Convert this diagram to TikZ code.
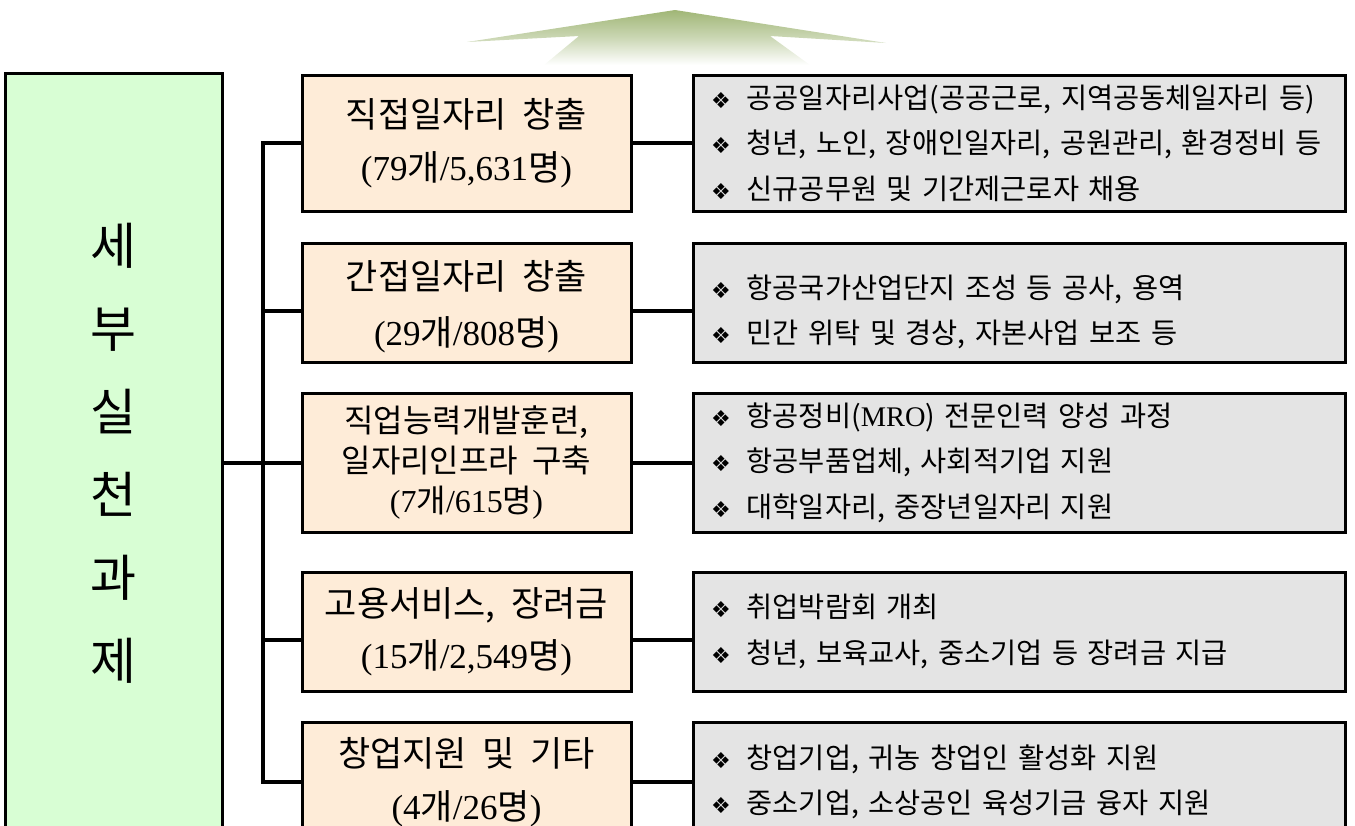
\documentclass[tikz,border=0pt]{standalone}
\usepackage{fontspec}
\setmainfont{Liberation Serif}
\newfontfamily\kor[WordSpace=2]{Noto Sans CJK KR}
\newfontfamily\dingfont{DejaVu Sans}
\usepackage{xcolor}
\usepackage{tikz}
\usetikzlibrary{positioning}

\definecolor{mintfill}{RGB}{216,254,212}
\definecolor{peachfill}{RGB}{254,236,216}
\definecolor{greyfill}{RGB}{228,228,228}
\definecolor{olivearrow}{RGB}{160,182,118}

\newcommand{\bul}{{\dingfont\fontsize{11}{11}\selectfont ❖}\hspace{8pt}}
\newcommand{\cnt}[2]{(#1{\kor 개}/#2{\kor 명})}

\begin{document}
\begin{tikzpicture}[x=0.5pt, y=-0.5pt,
    taskbox/.style={rectangle, draw, line width=1.5pt, fill=peachfill, minimum width=164.5pt, align=center, inner sep=0pt},
    itembox/.style={rectangle, draw, line width=1.5pt, fill=greyfill, minimum width=326pt, text width=308pt, align=left, inner xsep=9pt, inner ysep=0pt,
        font=\kor\fontsize{14.2}{22.75}\selectfont},
    link/.style={line width=2pt}]
    \useasboundingbox (0,0) rectangle (1355,825);
    \clip (0,0) rectangle (1355,825);

    % Arrow on top
    \shade[top color=olivearrow, bottom color=white, middle color=olivearrow!55]
        (675,10) -- (886,43) -- (770,36) -- (810,65) -- (544,65) -- (579,36) -- (467,42) -- cycle;

    % Left column
    \node[rectangle, draw, line width=1.5pt, fill=mintfill, minimum width=108.5pt, minimum height=380pt,
        align=center, font=\kor\fontsize{25}{41.5}\selectfont] (main) at (113.5,453) {세\\부\\실\\천\\과\\제};

    % Middle column
    \node[taskbox, minimum height=68pt, font=\fontsize{17.5}{26.5}\selectfont] (o1) at (466.5,143) {{\kor 직접일자리 창출}\\\cnt{79}{5,631}};
    \node[taskbox, minimum height=59.5pt, font=\fontsize{17.5}{28}\selectfont] (o2) at (466.5,302.5) {\rule{0pt}{19pt}{\kor 간접일자리 창출}\\\cnt{29}{808}};
    \node[taskbox, minimum height=69.5pt, font=\fontsize{16}{20}\selectfont] (o3) at (466.5,462.5) {{\kor 직업능력개발훈련,}\\{\kor 일자리인프라 구축}\\\cnt{7}{615}};
    \node[taskbox, minimum height=59.5pt, font=\fontsize{17.5}{26}\selectfont] (o4) at (466.5,631.5) {{\kor 고용서비스, 장려금}\\\cnt{15}{2,549}};
    \node[taskbox, minimum height=60pt, font=\fontsize{17.5}{26.5}\selectfont] (o5) at (466.5,782) {{\kor 창업지원 및 기타}\\\cnt{4}{26}};

    % Right column
    \node[itembox, minimum height=68pt] (g1) at (1019,143) {\bul 공공일자리사업(공공근로, 지역공동체일자리 등)\\\bul 청년, 노인, 장애인일자리, 공원관리, 환경정비 등\\\bul 신규공무원 및 기간제근로자 채용};
    \node[itembox, minimum height=59.5pt] (g2) at (1019,302.5) {\rule{0pt}{21pt}\bul 항공국가산업단지 조성 등 공사, 용역\\\bul 민간 위탁 및 경상, 자본사업 보조 등};
    \node[itembox, minimum height=69.5pt] (g3) at (1019,462.5) {\bul 항공정비({\rmfamily MRO}) 전문인력 양성 과정\\\bul 항공부품업체, 사회적기업 지원\\\bul 대학일자리, 중장년일자리 지원};
    \node[itembox, minimum height=59.5pt] (g4) at (1019,631.5) {\bul 취업박람회 개최\\\bul 청년, 보육교사, 중소기업 등 장려금 지급};
    \node[itembox, minimum height=60pt] (g5) at (1019,782) {\bul 창업기업, 귀농 창업인 활성화 지원\\\bul 중소기업, 소상공인 육성기금 융자 지원};

    % Connectors
    \coordinate (trunk) at (263,0);
    \coordinate (b2) at ([yshift=-4.25pt]o2.west);
    \coordinate (b4) at ([yshift=-4.25pt]o4.west);
    \draw[link] (o1.west) -- (trunk |- o1.west) -- (trunk |- o5.west) -- (o5.west);
    \draw[link] (trunk |- b2) -- (b2);
    \draw[link] (trunk |- b4) -- (b4);
    \draw[link] (main.east |- o3.west) -- (o3.west);

    \draw[link] (o1.east) -- (g1.west);
    \draw[link] (b2 -| o2.east) -- (b2 -| g2.west);
    \draw[link] (o3.east) -- (g3.west);
    \draw[link] (b4 -| o4.east) -- (b4 -| g4.west);
    \draw[link] (o5.east) -- (g5.west);
\end{tikzpicture}
\end{document}
